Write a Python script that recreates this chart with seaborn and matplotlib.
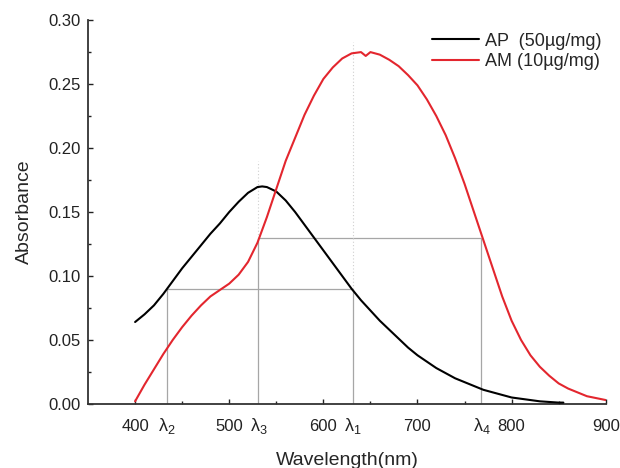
import numpy as np
import pandas as pd
import matplotlib
matplotlib.use("Agg")
import matplotlib.pyplot as plt
import seaborn as sns
from matplotlib.ticker import MultipleLocator, FixedLocator, FormatStrFormatter

# AP (50 ug/mg) absorption spectrum
ap_wavelength = [400, 410, 420, 430, 440, 450, 460, 470, 480, 490, 500, 510, 520,
                 530, 535, 540, 550, 560, 570, 580, 590, 600, 610, 620, 630, 640, 650,
                 660, 670, 680, 690, 700, 710, 720, 730, 740, 750, 760, 770, 780, 790,
                 800, 810, 820, 830, 840, 850, 855]
ap_absorbance = [0.064, 0.070, 0.077, 0.086, 0.096, 0.106, 0.115, 0.124, 0.133,
                 0.141, 0.150, 0.158, 0.165, 0.1695, 0.170, 0.1695, 0.166, 0.159, 0.150,
                 0.140, 0.130, 0.120, 0.110, 0.100, 0.090, 0.081, 0.073, 0.065, 0.058,
                 0.051, 0.044, 0.038, 0.033, 0.028, 0.024, 0.020, 0.017, 0.014, 0.011,
                 0.009, 0.007, 0.005, 0.004, 0.003, 0.002, 0.0015, 0.001, 0.001]

# AM (10 ug/mg) absorption spectrum
am_wavelength = [400, 410, 420, 430, 440, 450, 460, 470, 480, 490, 500, 510, 520, 530,
                 540, 550, 560, 570, 580, 590, 600, 610, 620, 630, 640, 645, 650, 660,
                 670, 680, 690, 700, 710, 720, 730, 740, 750, 760, 770, 780, 790, 800,
                 810, 820, 830, 840, 850, 860, 870, 880, 890, 900]
am_absorbance = [0.002, 0.015, 0.027, 0.039, 0.050, 0.060, 0.069, 0.077, 0.084, 0.089,
                 0.094, 0.101, 0.111, 0.126, 0.146, 0.168, 0.190, 0.208, 0.226, 0.241,
                 0.254, 0.263, 0.270, 0.274, 0.275, 0.272, 0.275, 0.273, 0.269, 0.264,
                 0.257, 0.249, 0.238, 0.225, 0.210, 0.192, 0.172, 0.150, 0.128, 0.106,
                 0.084, 0.065, 0.050, 0.038, 0.029, 0.022, 0.016, 0.012, 0.009, 0.006,
                 0.0045, 0.003]

# marked wavelengths and the two absorbance levels
lambda_names = [r"$\lambda_1$", r"$\lambda_2$", r"$\lambda_3$", r"$\lambda_4$"]
lambda_values = [631, 434, 531, 768]
level_low = 0.09
level_high = 0.13

sns.set_style("ticks")
plt.rcParams["font.family"] = ["Liberation Sans", "DejaVu Sans"]
plt.rcParams["mathtext.fontset"] = "custom"
plt.rcParams["mathtext.rm"] = "Liberation Sans"
plt.rcParams["mathtext.it"] = "Liberation Sans"

df_ap = pd.DataFrame({"Wavelength": ap_wavelength, "Absorbance": ap_absorbance})
df_am = pd.DataFrame({"Wavelength": am_wavelength, "Absorbance": am_absorbance})

fig, ax = plt.subplots(figsize=(6.2, 4.68), dpi=100)
fig.subplots_adjust(left=0.142, right=0.977, bottom=0.137, top=0.957)

l1, l2, l3, l4 = lambda_values
ref = dict(color="#a6a6a6", lw=0.9, zorder=1)
dot = dict(color="#cfcfcf", lw=0.8, linestyle=(0, (1, 2)), zorder=1)
ax.vlines([l2, l1], 0, level_low, **ref)
ax.vlines([l3, l4], 0, level_high, **ref)
ax.hlines(level_low, l2, l1, **ref)
ax.hlines(level_high, l3, l4, **ref)
ax.vlines(l1, level_low, 0.283, **dot)
ax.vlines(l3, level_high, 0.19, **dot)

sns.lineplot(data=df_ap, x="Wavelength", y="Absorbance", color="black", lw=1.5,
             label="AP  (50µg/mg)", ax=ax, zorder=3)
sns.lineplot(data=df_am, x="Wavelength", y="Absorbance", color="#e3262e", lw=1.5,
             label="AM (10µg/mg)", ax=ax, zorder=3)

ax.set_xlim(350, 900)
ax.set_ylim(0, 0.30)
ax.xaxis.set_major_locator(FixedLocator([400, 500, 600, 700, 800, 900]))
ax.xaxis.set_minor_locator(FixedLocator([450, 550, 650, 750, 850]))
ax.yaxis.set_major_locator(MultipleLocator(0.05))
ax.yaxis.set_minor_locator(MultipleLocator(0.025))
ax.yaxis.set_major_formatter(FormatStrFormatter("%.2f"))

ax.tick_params(which="both", direction="in", width=1, colors="#222222", labelsize=12)
ax.tick_params(which="major", length=3.5)
ax.tick_params(which="minor", length=2.5)
ax.tick_params(axis="x", which="major", pad=11)
ax.tick_params(axis="y", which="major", pad=5)

for name, lam in zip(lambda_names, lambda_values):
    ax.annotate(name, xy=(lam, 0), xycoords=("data", "axes fraction"),
                xytext=(0, -9), textcoords="offset points",
                ha="center", va="top", fontsize=13, color="#222222")

sns.despine(ax=ax)
for side in ["left", "bottom"]:
    ax.spines[side].set_linewidth(1.3)
    ax.spines[side].set_color("#333333")

ax.set_xlabel("Wavelength(nm)", fontsize=14, labelpad=13)
ax.set_ylabel("Absorbance", fontsize=14, labelpad=11)

handles, labels = ax.get_legend_handles_labels()
ax.legend(handles, labels, loc="upper left", bbox_to_anchor=(0.697, 0.93),
          bbox_transform=fig.transFigure, frameon=False, fontsize=13,
          borderpad=0, borderaxespad=0, handlelength=2.6, handletextpad=0.35,
          labelspacing=0.2)

plt.savefig("out.png", dpi=100)
